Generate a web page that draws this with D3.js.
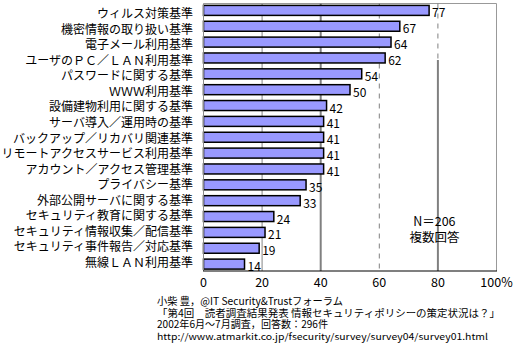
<!DOCTYPE html>
<html><head><meta charset="utf-8">
<script src="https://cdn.jsdelivr.net/npm/d3@7"></script>
<style>
body{margin:0;background:#fff;}
svg{display:block;}
text{font-family:"Noto Sans CJK JP","Noto Sans",sans-serif;fill:#000;}
</style></head>
<body>
<svg id="chart" width="515" height="350"></svg>
<script>
const categories = [
  "ウィルス対策基準","機密情報の取り扱い基準","電子メール利用基準","ユーザのＰＣ／ＬＡＮ利用基準",
  "パスワードに関する基準","ＷＷＷ利用基準","設備建物利用に関する基準","サーバ導入／運用時の基準",
  "バックアップ／リカバリ関連基準","リモートアクセスサービス利用基準","アカウント／アクセス管理基準",
  "プライバシー基準","外部公開サーバに関する基準","セキュリティ教育に関する基準",
  "セキュリティ情報収集／配信基準","セキュリティ事件報告／対応基準","無線ＬＡＮ利用基準"
];
const values = [77,67,64,62,54,50,42,41,41,41,41,35,33,24,21,19,14];
const tickValues = [0,20,40,60,80,100];
const tickLabels = ["0","20","40","60","80","100%"];
const noteLines = ["N＝206","複数回答"];
const sourceLines = [
  "小柴 豊，@IT Security&Trustフォーラム",
  "「第4回　読者調査結果発表 情報セキュリティポリシーの策定状況は？」",
  "2002年6月～7月調査，回答数：296件",
  "http://www.atmarkit.co.jp/fsecurity/survey/survey04/survey01.html"
];

const svg = d3.select("#chart");
const pL = 203.5, pR = 496.5, pT = 3.5, pB = 271;
const x = d3.scaleLinear().domain([0,100]).range([pL,pR]);
const y = d3.scaleBand().domain(categories).range([pT,pB]).paddingInner(0.37).paddingOuter(0.12);
const yl = d3.scaleBand().domain(categories).range([5.7,270.3]);

// frame (top & right gray)
svg.append("path")
  .attr("d", `M${pL},${pT}H${pR}V${pB}`)
  .attr("fill","none").attr("stroke","#999").attr("stroke-width",1);

// gridlines
const g = svg.append("g");
g.append("line").attr("x1",x(20)).attr("x2",x(20)).attr("y1",pT).attr("y2",pB)
  .attr("stroke","#999").attr("stroke-width",1.2);
g.append("line").attr("x1",x(40)).attr("x2",x(40)).attr("y1",pT).attr("y2",pB)
  .attr("stroke","#808080").attr("stroke-width",2);
g.append("line").attr("x1",x(60)).attr("x2",x(60)).attr("y1",pT).attr("y2",pB)
  .attr("stroke","#808080").attr("stroke-width",1).attr("stroke-dasharray","5,5");
g.append("line").attr("x1",x(80)).attr("x2",x(80)).attr("y1",pT).attr("y2",60)
  .attr("stroke","#808080").attr("stroke-width",1).attr("stroke-dasharray","5,5");
g.append("line").attr("x1",x(80)).attr("x2",x(80)).attr("y1",60).attr("y2",pB)
  .attr("stroke","#808080").attr("stroke-width",2);

// bars
svg.append("g").selectAll("rect").data(values).join("rect")
  .attr("x", x(0))
  .attr("y", (d,i)=>y(categories[i]))
  .attr("width", d=>x(d)-x(0))
  .attr("height", y.bandwidth())
  .attr("fill","#9999ff").attr("stroke","#000").attr("stroke-width",1.5);

// value labels
svg.append("g").selectAll("text").data(values).join("text")
  .attr("x", d=>x(d)+3)
  .attr("y", (d,i)=>y(categories[i])+y.bandwidth()/2+7)
  .attr("font-size",12).text(d=>d);

// category labels
svg.append("g").selectAll("text").data(categories).join("text")
  .attr("x", 193).attr("y", d=>yl(d)+yl.bandwidth()/2+4.5)
  .attr("text-anchor","end").attr("font-size",12).text(d=>d);

// axes lines
svg.append("line").attr("x1",pL).attr("x2",pL).attr("y1",pT).attr("y2",pB)
  .attr("stroke","#888").attr("stroke-width",1);
svg.append("line").attr("x1",pL-0.5).attr("x2",pR+0.5).attr("y1",pB).attr("y2",pB)
  .attr("stroke","#000").attr("stroke-width",1.2);

// tick labels
svg.append("g").selectAll("text").data(tickValues).join("text")
  .attr("x", d=>x(d)).attr("y", 287)
  .attr("text-anchor","middle").attr("font-size",12.5)
  .text((d,i)=>tickLabels[i]);

// note
svg.append("g").selectAll("text").data(noteLines).join("text")
  .attr("x", x(78.8)).attr("y",(d,i)=>226+i*16)
  .attr("text-anchor","middle").attr("font-size",12.5).text(d=>d);

// source (fitted to the reference line widths)
const srcLayout = [
  {w:186, fs:10.5},
  {w:343, fs:10},
  {w:171, fs:10.5},
  {w:331, fs:9}
];
svg.append("g").selectAll("text").data(sourceLines).join("text")
  .attr("x",157).attr("y",(d,i)=>305+i*11.6)
  .attr("font-size",(d,i)=>srcLayout[i].fs)
  .attr("textLength",(d,i)=>srcLayout[i].w)
  .attr("lengthAdjust","spacingAndGlyphs")
  .text(d=>d);
</script>
</body></html>
